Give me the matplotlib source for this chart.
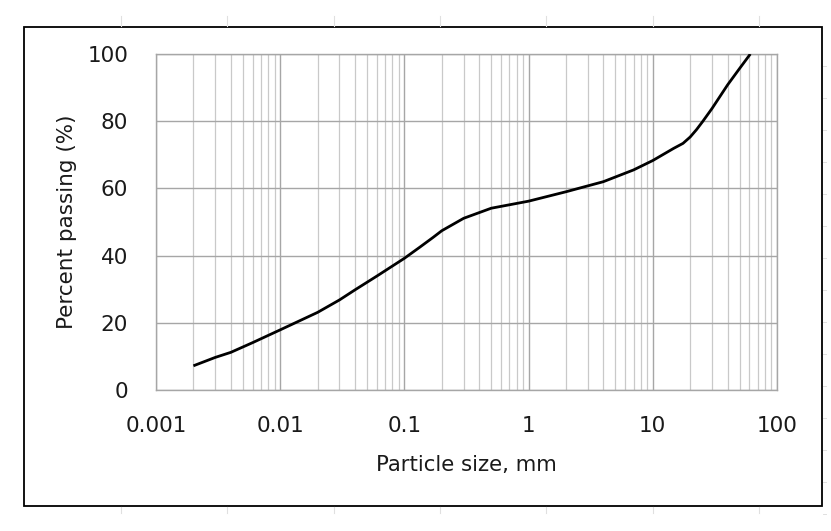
import matplotlib
matplotlib.use("Agg")
import matplotlib.pyplot as plt
from matplotlib.lines import Line2D
from matplotlib.patches import Rectangle
from matplotlib.ticker import LogLocator, FixedLocator, NullFormatter

# Data
particle_size_mm = [0.002, 0.003, 0.004, 0.006, 0.01, 0.02, 0.03, 0.04, 0.06,
                    0.1, 0.133, 0.17, 0.2, 0.3, 0.5, 1.0, 2.0, 4.0, 7.0, 10.0,
                    14.7, 17.5, 20.0, 22.5, 25.2, 30.0, 40.0, 50.0, 61.0]
percent_passing = [7.2, 9.7, 11.2, 14.1, 17.9, 23.1, 26.8, 29.8, 33.9,
                   39.2, 42.5, 45.4, 47.4, 51.1, 54.1, 56.2, 59.0, 62.0, 65.5, 68.3,
                   71.9, 73.4, 75.3, 77.5, 79.9, 83.8, 90.8, 95.7, 100.0]

x_ticks = [0.001, 0.01, 0.1, 1, 10, 100]
x_tick_labels = ["0.001", "0.01", "0.1", "1", "10", "100"]
y_ticks = [0, 20, 40, 60, 80, 100]
y_tick_labels = ["0", "20", "40", "60", "80", "100"]

plt.rcParams['font.family'] = ['DejaVu Sans']

W, H = 831, 531
fig = plt.figure(figsize=(W / 100, H / 100), dpi=100)
fig.patch.set_facecolor("white")

# faint outer ticks (background artefacts)
faint = "#e0e0e0"
for i in range(7):
    xp = 121 + 106.3 * i
    fig.add_artist(Line2D([xp / W, xp / W], [1 - 16 / H, 1 - 26 / H],
                          color=faint, lw=0.8, transform=fig.transFigure))
    fig.add_artist(Line2D([xp / W, xp / W], [1 - 507 / H, 1 - 513 / H],
                          color=faint, lw=0.8, transform=fig.transFigure))
for i in range(15):
    yp = 66 + 32 * i
    fig.add_artist(Line2D([823 / W, 826 / W], [1 - yp / H, 1 - yp / H],
                          color=faint, lw=0.7, transform=fig.transFigure))

# outer frame
fig.add_artist(Rectangle((24 / W, 1 - 506 / H), (822 - 24) / W, (506 - 27) / H,
                         transform=fig.transFigure, fill=False,
                         edgecolor="black", lw=1.3))

ax = fig.add_axes([156 / W, 1 - 390 / H, (777 - 156) / W, (390 - 54) / H])
ax.set_xscale("log")
ax.set_xlim(0.001, 100)
ax.set_ylim(0, 100)

ax.plot(particle_size_mm, percent_passing, color="black", lw=2.0,
        solid_joinstyle="round", solid_capstyle="butt", zorder=5)

ax.xaxis.set_major_locator(FixedLocator(x_ticks))
ax.set_xticklabels(x_tick_labels)
ax.xaxis.set_minor_locator(LogLocator(base=10, subs=range(2, 10), numticks=100))
ax.xaxis.set_minor_formatter(NullFormatter())
ax.set_yticks(y_ticks)
ax.set_yticklabels(y_tick_labels)

ax.grid(which="major", axis="x", color="#a6a6a6", lw=1.0)
ax.grid(which="minor", axis="x", color="#c9c9c9", lw=0.9)
ax.grid(which="major", axis="y", color="#a6a6a6", lw=1.0)
ax.set_axisbelow(True)

for s in ax.spines.values():
    s.set_color("#a6a6a6")
    s.set_linewidth(1.0)

ax.tick_params(which="both", length=0)
ax.tick_params(axis="y", pad=20, labelsize=15.5, labelcolor="#1a1a1a")
ax.tick_params(axis="x", pad=19, labelsize=15.5, labelcolor="#1a1a1a")

ax.set_xlabel("Particle size, mm", fontsize=15.3, color="#1a1a1a")
ax.set_ylabel("Percent passing (%)", fontsize=15.5, color="#1a1a1a")
ax.xaxis.set_label_coords(0.5, -(465 - 390) / (390 - 54), transform=ax.transAxes)
ax.yaxis.set_label_coords(-(156 - 67) / (777 - 156), 0.5, transform=ax.transAxes)
ax.xaxis.label.set_va("center")
ax.yaxis.label.set_va("center")

fig.savefig("out.png", dpi=100, facecolor="white")
